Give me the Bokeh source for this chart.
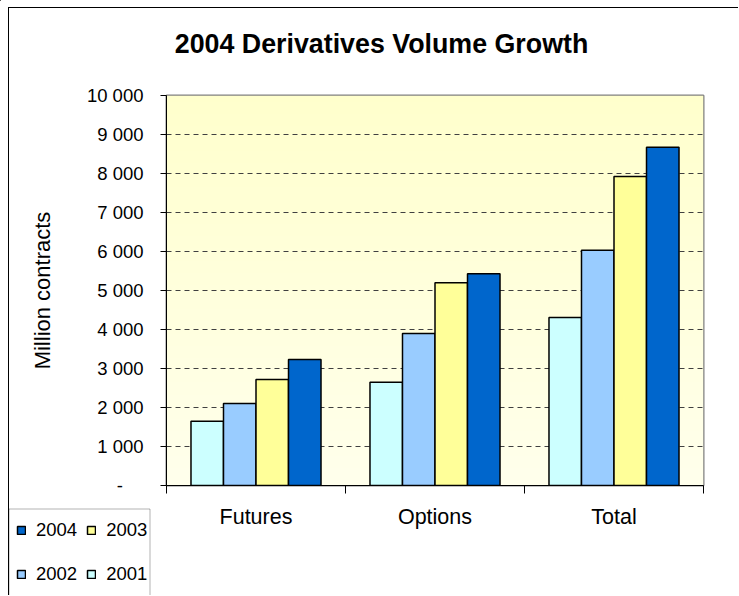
import numpy as np
from bokeh.plotting import figure
from bokeh.models import (FixedTicker, Legend, LegendItem, Range1d, LinearAxis, Label,
                          BoxAnnotation)
from bokeh.embed import file_html
from bokeh.resources import INLINE

# ---- data ----
categories = ["Futures", "Options", "Total"]
years = ["2001", "2002", "2003", "2004"]
v2001 = [1650, 2650, 4310]
v2002 = [2100, 3900, 6030]
v2003 = [2720, 5200, 7920]
v2004 = [3230, 5430, 8670]
y_ticks = [0, 1000, 2000, 3000, 4000, 5000, 6000, 7000, 8000, 9000, 10000]
title_text = "2004 Derivatives Volume Growth"
y_title = "Million contracts"

series = [v2001, v2002, v2003, v2004]
colors = ["#CCFFFF", "#99CCFF", "#FFFF99", "#0066CC"]
FONT = "Liberation Sans"

n = len(categories)
y_max = y_ticks[-1]
bw = 0.1816
centers = np.arange(n) + 0.5
W, H = 739, 596

# ================= main chart =================
p = figure(width=730, height=588, output_backend="svg", toolbar_location=None,
           x_range=Range1d(0, n), y_range=Range1d(0, y_max),
           min_border_left=157, min_border_right=36, min_border_top=87,
           min_border_bottom=111, x_axis_location=None, y_axis_location=None)
p.title.visible = False
xa = LinearAxis()
ya = LinearAxis()
p.add_layout(xa, "below")
p.add_layout(ya, "left")

rows = 64
img = np.empty((rows, 1), dtype=np.uint32)
view = img.view(dtype=np.uint8).reshape((rows, 1, 4))
for r in range(rows):
    t = r / (rows - 1)
    b = int(round(236 - (236 - 204) * t))
    view[r, 0] = (255, 255, b, 255)
p.image_rgba(image=[img], x=0, y=0, dw=n, dh=y_max, level="image")

p.background_fill_color = "#FFFFDD"
p.border_fill_color = "white"
p.outline_line_color = "#808080"
p.outline_line_width = 2

p.xgrid.visible = False
p.ygrid.ticker = FixedTicker(ticks=y_ticks)
p.ygrid.grid_line_color = "#404040"
p.ygrid.grid_line_dash = "5 4"
p.ygrid.grid_line_width = 1
p.ygrid.level = "underlay"

for i, (vals, col) in enumerate(zip(series, colors)):
    p.vbar(x=centers + (i - 1.5) * bw, top=vals, width=bw, bottom=0,
           fill_color=col, line_color="black", line_width=1.5)

ya.ticker = FixedTicker(ticks=y_ticks)
ya.major_label_overrides = {t: (f"{t:,}".replace(",", " ") if t else "-" + "\u00a0" * 4) for t in y_ticks}
ya.major_label_text_font = FONT
ya.major_label_text_font_size = "18.5px"
ya.major_label_text_color = "black"
ya.major_tick_out = 6
ya.major_tick_in = 0
ya.minor_tick_out = 0
ya.minor_tick_in = 0
ya.major_label_standoff = 17
ya.axis_line_color = "black"
ya.major_tick_line_color = "black"
ya.axis_label = y_title
ya.axis_label_text_font = FONT
ya.axis_label_text_font_size = "22px"
ya.axis_label_text_font_style = "normal"
ya.axis_label_text_color = "black"
ya.axis_label_standoff = 29

xa.ticker = FixedTicker(ticks=list(centers), minor_ticks=list(range(n + 1)))
xa.major_label_overrides = {float(c): cat for c, cat in zip(centers, categories)}
xa.major_label_text_font = FONT
xa.major_label_text_font_size = "21.5px"
xa.major_label_text_color = "black"
xa.major_tick_out = 0
xa.major_tick_in = 0
xa.minor_tick_out = 8
xa.minor_tick_in = 0
xa.minor_tick_line_color = "black"
xa.major_label_standoff = 11
xa.axis_line_color = "black"

p.margin = (7, 0, 0, 8)
p.styles = {"border-left": "1px solid black", "border-top": "1px solid black"}

# ================= transparent overlay: title + legend =================
pov = figure(width=W, height=H, output_backend="svg", toolbar_location=None,
             x_range=Range1d(0, W), y_range=Range1d(H, 0),
             min_border=0, min_border_left=0, min_border_right=0,
             min_border_top=0, min_border_bottom=0,
             x_axis_location=None, y_axis_location=None)
pov.title.visible = False
pov.xgrid.visible = False
pov.ygrid.visible = False
pov.outline_line_color = None
pov.background_fill_color = None
pov.border_fill_color = None
# legend-only renderers, mapped far outside the overlay's view
pov.extra_y_ranges = {"hidden": Range1d(-200 * y_max, -100 * y_max)}
pov.extra_x_ranges = {"hidden": Range1d(100 * n, 101 * n)}
leg_r = []
for i, (vals, col) in enumerate(zip(series, colors)):
    r = pov.vbar(x=centers + (i - 1.5) * bw, top=vals, width=bw, bottom=0,
                 fill_color=col, line_color="black", line_width=1.5,
                 x_range_name="hidden", y_range_name="hidden")
    leg_r.append(r)

pov.add_layout(Label(x=381, y=44, text=title_text, text_align="center",
                     text_baseline="middle", text_font=FONT,
                     text_font_size="26.8px", text_font_style="bold",
                     text_color="black"))

# legend frame
pov.add_layout(BoxAnnotation(left=8.5, right=149.5, top=509.5, bottom=H + 20,
                             fill_color="white", fill_alpha=1,
                             line_color="black", line_width=1))

def make_legend(idx, loc):
    lg = Legend(items=[LegendItem(label=years[i], renderers=[leg_r[i]]) for i in idx],
                orientation="horizontal", location=loc)
    lg.label_text_font = FONT
    lg.label_text_font_size = "18.5px"
    lg.label_text_color = "black"
    lg.glyph_width = 10
    lg.glyph_height = 10
    lg.label_standoff = 10
    lg.spacing = 9
    lg.padding = 0
    lg.margin = 0
    lg.border_line_color = None
    lg.background_fill_alpha = 0
    return lg

pov.add_layout(make_legend([3, 2], (16, 54)), "center")
pov.add_layout(make_legend([1, 0], (16, 10)), "center")
pov.margin = (-H, 0, 0, 0)

open("out.html", "w").write(file_html([p, pov], INLINE))
